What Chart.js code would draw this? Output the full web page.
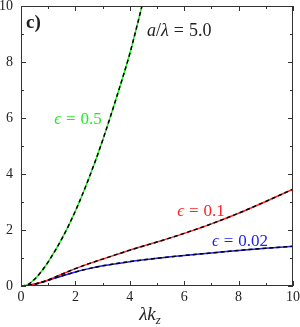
<!DOCTYPE html>
<html>
<head>
<meta charset="utf-8">
<script src="https://cdn.jsdelivr.net/npm/chart.js@4.4.0/dist/chart.umd.min.js"></script>
<style>
html, body { margin: 0; padding: 0; background: #fff; }
</style>
</head>
<body>
<canvas id="plot" width="300" height="327"></canvas>
<script>
// values (lambda*k_z on x)
const kGreen = [0, 0.25, 0.5, 0.75, 1, 1.5, 2, 2.5, 3, 3.5, 4, 4.5];
const wGreen = [0, 0.05, 0.24, 0.52, 0.86, 1.68, 2.68, 3.86, 5.2, 6.7, 8.3, 10.2];

const kRed = [0, 0.25, 0.5, 1, 1.5, 2, 2.5, 3, 4, 5, 6, 7, 8, 9, 10];
const wRed = [0, 0.02, 0.07, 0.22, 0.42, 0.62, 0.8, 0.96, 1.28, 1.57, 1.88, 2.22, 2.6, 3.02, 3.46];

const kBlue = [0, 0.25, 0.5, 1, 1.5, 2, 2.5, 3, 4, 5, 6, 7, 8, 9, 10];
const wBlue = [0, 0.02, 0.06, 0.2, 0.36, 0.5, 0.62, 0.72, 0.87, 0.99, 1.09, 1.18, 1.27, 1.35, 1.42];

const xTicks = [0, 2, 4, 6, 8, 10];
const yTicks = [0, 2, 4, 6, 8, 10];

const green = '#22ee22';
const red = '#ff2222';
const blue = '#2222ee';

function pts(xs, ys) {
  return xs.map((x, i) => ({ x: x, y: ys[i] }));
}

// order: lower number is drawn on top
function curve(xs, ys, col, dashed) {
  return {
    data: pts(xs, ys),
    borderColor: dashed ? '#000' : col,
    borderWidth: 1.5,
    borderDash: dashed ? [4, 3] : [],
    order: dashed ? 0 : 1,
    pointRadius: 0,
    cubicInterpolationMode: 'monotone',
    fill: false
  };
}

// text made of pieces: [text, font, gapAfter, dy]
function mathText(ctx, parts, x, y, align) {
  let w = 0;
  parts.forEach(p => { ctx.font = p[1]; w += ctx.measureText(p[0]).width + (p[2] || 0); });
  let cx = align === 'center' ? x - w / 2 : x;
  parts.forEach(p => {
    ctx.font = p[1];
    ctx.fillText(p[0], cx, y + (p[3] || 0));
    cx += ctx.measureText(p[0]).width + (p[2] || 0);
  });
}

const serif = '"Liberation Serif", "DejaVu Serif", serif';

const frame = {
  id: 'frame',
  afterDatasetsDraw(chart) {
    const ctx = chart.ctx;
    const a = chart.chartArea;
    const xs = chart.scales.x, ys = chart.scales.y;
    ctx.save();
    ctx.strokeStyle = '#333';
    ctx.lineWidth = 1;
    ctx.strokeRect(a.left + 0.5, a.top + 0.5, a.right - a.left - 1, a.bottom - a.top - 1);

    ctx.beginPath();
    for (let v = 0; v <= 10; v++) {
      const len = v % 2 === 0 ? 5 : 3;
      const px = Math.round(xs.getPixelForValue(v)) + 0.5;
      ctx.moveTo(px, a.bottom); ctx.lineTo(px, a.bottom - len);
      ctx.moveTo(px, a.top); ctx.lineTo(px, a.top + len);
      const py = Math.round(ys.getPixelForValue(v)) + 0.5;
      ctx.moveTo(a.left, py); ctx.lineTo(a.left + len, py);
      ctx.moveTo(a.right, py); ctx.lineTo(a.right - len, py);
    }
    ctx.stroke();

    ctx.fillStyle = '#222';
    ctx.font = '14px ' + serif;
    ctx.textAlign = 'center';
    ctx.textBaseline = 'alphabetic';
    xTicks.forEach(v => ctx.fillText(String(v), xs.getPixelForValue(v), 301));
    ctx.textAlign = 'right';
    yTicks.forEach(v => ctx.fillText(String(v), 13, ys.getPixelForValue(v) + 4));

    ctx.textAlign = 'left';
    const it = (s) => 'italic ' + s + 'px ' + serif;
    const rm = (s) => s + 'px ' + serif;

    // axis title
    mathText(ctx, [['λ', it(19)], ['k', it(19)], ['z', it(13), 0, 4]], 150, 320, 'center');

    // panel letter
    ctx.font = 'bold 19px ' + serif;
    ctx.fillText('c)', 26, 28);

    mathText(ctx, [['a', it(18)], ['/', rm(18)], ['λ', it(18), 5], ['=', rm(18), 5], ['5.0', rm(18)]], 147, 36, 'left');

    ctx.fillStyle = green;
    mathText(ctx, [['ϵ', it(17), 5], ['=', rm(17), 5], ['0.5', rm(17)]], 78, 124, 'center');
    ctx.fillStyle = red;
    mathText(ctx, [['ϵ', it(17), 5], ['=', rm(17), 5], ['0.1', rm(17)]], 201, 216, 'center');
    ctx.fillStyle = blue;
    mathText(ctx, [['ϵ', it(17), 5], ['=', rm(17), 5], ['0.02', rm(17)]], 240, 246, 'center');
    ctx.restore();
  }
};

new Chart(document.getElementById('plot').getContext('2d'), {
  type: 'line',
  data: {
    datasets: [
      curve(kGreen, wGreen, green, false),
      curve(kRed, wRed, red, false),
      curve(kBlue, wBlue, blue, false),
      curve(kGreen, wGreen, green, true),
      curve(kRed, wRed, red, true),
      curve(kBlue, wBlue, blue, true)
    ]
  },
  options: {
    responsive: false,
    animation: false,
    layout: { padding: { left: 21, right: 7, top: 6, bottom: 41 } },
    plugins: { legend: { display: false }, tooltip: { enabled: false } },
    scales: {
      x: { type: 'linear', min: 0, max: 10, display: false },
      y: { type: 'linear', min: 0, max: 10, display: false }
    }
  },
  plugins: [frame]
});
</script>
</body>
</html>
